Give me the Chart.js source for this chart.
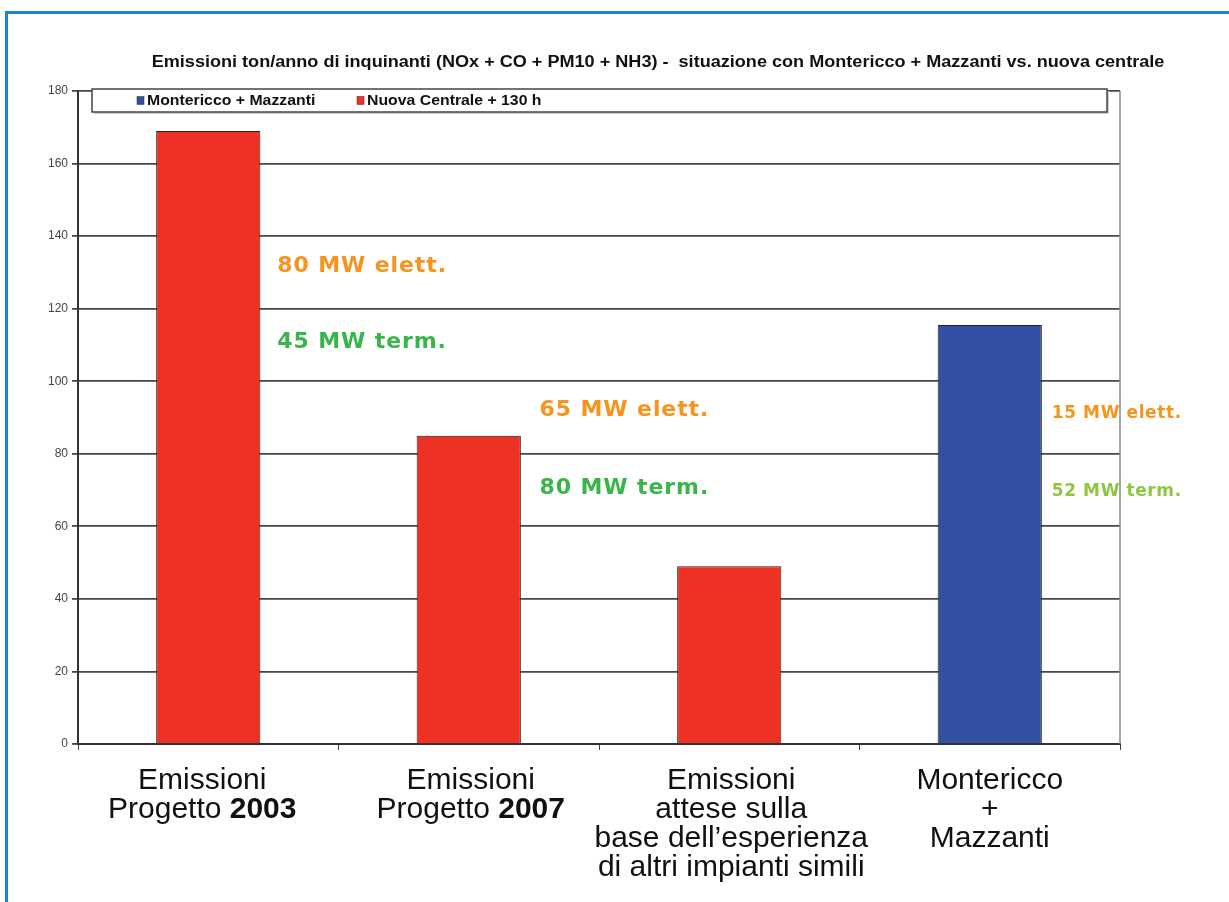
<!DOCTYPE html>
<html><head><meta charset="utf-8">
<script src="https://cdn.jsdelivr.net/npm/chart.js@4.4.1/dist/chart.umd.min.js"></script>
<style>
html,body{margin:0;padding:0;background:#fff;}
#wrap{position:relative;width:1229px;height:902px;overflow:hidden;background:#fff;}
#frame{position:absolute;left:5px;top:11px;width:1300px;height:1000px;border-top:3px solid #1a84d6;border-left:3px solid #1a84d6;pointer-events:none;}
</style></head><body>
<div id="wrap"><canvas id="c" width="1229" height="902"></canvas><div id="frame"></div></div>
<script>
const titleText = "Emissioni ton/anno di inquinanti (NOx + CO + PM10 + NH3) -  situazione con Montericco + Mazzanti vs. nuova centrale";
const categories = [
  ["Emissioni", "Progetto 2003"],
  ["Emissioni", "Progetto 2007"],
  ["Emissioni", "attese sulla", "base dell’esperienza", "di altri impianti simili"],
  ["Montericco", "+", "Mazzanti"]
];
const boldWords = ["2003", "2007"];
const seriesNames = ["Montericco + Mazzanti", "Nuova Centrale + 130 h"];
const montericcoValues = [null, null, null, 115.5];
const nuovaCentraleValues = [169, 85, 49, null];
const yTicks = [0, 20, 40, 60, 80, 100, 120, 140, 160, 180];
const noteTexts = ["80 MW elett.", "45 MW term.", "65 MW elett.", "80 MW term.", "15 MW elett.", "52 MW term."];
const noteCategory = [0, 0, 1, 1, 3, 3];
const noteValue = [131.8, 110.8, 92, 70.6, 91.2, 69.7];

const seriesColors = ["#3251a3", "#ee3125"];
const noteOffset = [0.265, 0.265, 0.272, 0.272, 0.238, 0.238];
const noteColors = ["#f7941d", "#39b54a", "#f7941d", "#39b54a", "#f7941d", "#8dc63f"];
const noteFont = [22, 22, 22, 22, 17, 17];
const noteSpacing = [0.9, 0.9, 0.9, 0.9, 0.6, 0.6];
const labelShift = [-6, 2, 2, 0];

const decorPlugin = {
  id: 'decor',
  beforeDatasetsDraw(chart) {
    const ctx = chart.ctx, a = chart.chartArea;
    ctx.save();
    ctx.strokeStyle = '#8a8a8a';
    ctx.lineWidth = 1.5;
    ctx.beginPath();
    ctx.moveTo(a.right, a.top);
    ctx.lineTo(a.right, a.bottom);
    ctx.stroke();
    ctx.restore();
  },
  afterDraw(chart) {
    const ctx = chart.ctx, a = chart.chartArea;
    const xs = chart.scales.x, ys = chart.scales.y;
    ctx.save();
    // title
    ctx.fillStyle = '#111';
    ctx.font = 'bold 16px "Liberation Sans", Arial, sans-serif';
    ctx.textAlign = 'center';
    ctx.textBaseline = 'middle';
    ctx.save();
    ctx.translate(658, 63);
    ctx.scale(1.13, 1);
    ctx.fillText(titleText, 0, 0);
    ctx.restore();

    // legend box
    const bx = a.left + 14, by = a.top - 2, bw = a.right - a.left - 27, bh = 23;
    ctx.fillStyle = '#cfcfcf';
    ctx.fillRect(bx + 2, by + 2, bw, bh);
    ctx.fillStyle = '#fff';
    ctx.fillRect(bx, by, bw, bh);
    ctx.strokeStyle = '#444';
    ctx.lineWidth = 1.5;
    ctx.strokeRect(bx, by, bw, bh);
    const itemX = [bx + 45, bx + 265];
    ctx.textAlign = 'left';
    ctx.font = 'bold 14px "Liberation Sans", Arial, sans-serif';
    chart.data.datasets.forEach((ds, i) => {
      ctx.fillStyle = ds.backgroundColor;
      ctx.fillRect(itemX[i], by + bh / 2 - 4, 7, 8);
      ctx.strokeStyle = '#333';
      ctx.lineWidth = 0.5;
      ctx.strokeRect(itemX[i], by + bh / 2 - 4, 7, 8);
      ctx.fillStyle = '#111';
      ctx.save();
      ctx.translate(itemX[i] + 10, by + bh / 2 + 1);
      ctx.scale(1.13, 1);
      ctx.fillText(ds.label, 0, 0);
      ctx.restore();
    });

    // category labels
    ctx.fillStyle = '#111';
    ctx.textBaseline = 'alphabetic';
    const reg = '30px "Liberation Sans", Arial, sans-serif';
    const bld = 'bold 30px "Liberation Sans", Arial, sans-serif';
    categories.forEach((lines, i) => {
      const cx = xs.getPixelForValue(i) + labelShift[i];
      lines.forEach((line, j) => {
        const y = a.bottom + 45 + j * 29;
        const words = line.split(' ');
        const parts = words.map((w, k) => ({ t: (k < words.length - 1 ? w + ' ' : w), b: boldWords.includes(w) }));
        let total = 0;
        parts.forEach(p => { ctx.font = p.b ? bld : reg; p.w = ctx.measureText(p.t).width; total += p.w; });
        let x = cx - total / 2;
        parts.forEach(p => { ctx.font = p.b ? bld : reg; ctx.textAlign = 'left'; ctx.fillText(p.t, x, y); x += p.w; });
      });
    });

    // notes
    ctx.textBaseline = 'middle';
    ctx.textAlign = 'left';
    const catW = xs.getPixelForValue(1) - xs.getPixelForValue(0);
    noteTexts.forEach((t, i) => {
      ctx.font = 'bold ' + noteFont[i] + 'px "DejaVu Sans", sans-serif';
      ctx.fillStyle = noteColors[i];
      if ('letterSpacing' in ctx) ctx.letterSpacing = noteSpacing[i] + 'px';
      const x = xs.getPixelForValue(noteCategory[i]) + noteOffset[i] * catW;
      ctx.fillText(t, x, ys.getPixelForValue(noteValue[i]));
    });
    ctx.restore();
  }
};

new Chart(document.getElementById('c'), {
  type: 'bar',
  data: {
    labels: categories,
    datasets: [
      { label: seriesNames[0], data: montericcoValues, backgroundColor: seriesColors[0], borderColor: '#222', borderWidth: 1, grouped: false, barPercentage: 0.4, categoryPercentage: 1 },
      { label: seriesNames[1], data: nuovaCentraleValues, backgroundColor: seriesColors[1], borderColor: '#222', borderWidth: 1, grouped: false, barPercentage: 0.4, categoryPercentage: 1 }
    ]
  },
  options: {
    responsive: false,
    animation: false,
    devicePixelRatio: 1,
    layout: { padding: { left: 36, right: 109, top: 91, bottom: 0 } },
    plugins: { legend: { display: false }, title: { display: false }, tooltip: { enabled: false } },
    scales: {
      x: {
        offset: true,
        grid: { offset: true, drawOnChartArea: false, drawTicks: true, tickLength: 6, color: '#444', lineWidth: 1 },
        border: { color: '#333', width: 2 },
        ticks: { display: false },
        afterFit: s => { s.height = 158; }
      },
      y: {
        min: 0, max: 180,
        afterBuildTicks: s => { s.ticks = yTicks.map(v => ({ value: v })); },
        grid: { color: '#474747', lineWidth: 1.8, tickLength: 6, drawTicks: true },
        border: { color: '#333', width: 2 },
        ticks: { color: '#444', font: { family: '"Liberation Sans", Arial, sans-serif', size: 12 }, padding: 4 },
        afterFit: s => { s.width = 42; }
      }
    }
  },
  plugins: [decorPlugin]
});
</script>
</body></html>
